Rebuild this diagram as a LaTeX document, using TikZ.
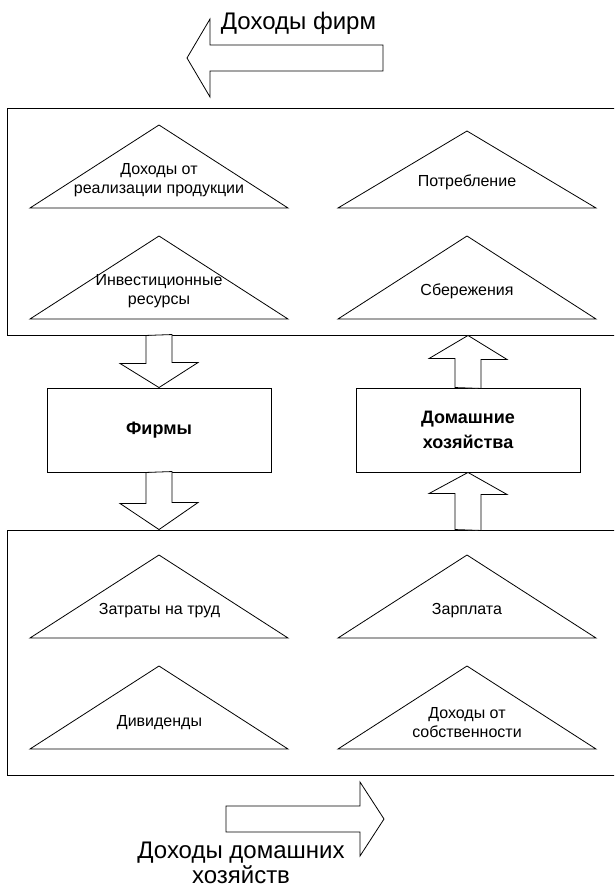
\documentclass[tikz,border=0pt]{standalone}
\usepackage{fontspec}
\setmainfont{Liberation Sans}
\usetikzlibrary{positioning, calc}

\begin{document}
\begin{tikzpicture}[x=1pt, y=-1pt,
  panel/.style={draw, line width=0.9pt, minimum width=614pt, inner sep=0pt},
  box/.style={draw, line width=0.9pt, minimum width=224pt, minimum height=84pt,
              align=center, font=\fontsize{18}{25}\selectfont\bfseries},
  tri/.style={draw, line width=0.8pt, line join=miter},
  lbl/.style={align=center, inner sep=0pt, font=\fontsize{16}{19}\selectfont},
  big/.style={align=center, inner sep=0pt, font=\fontsize{24}{25}\selectfont},
  flow/.style={draw, fill=white, line width=0.8pt, line join=miter}
]
  \clip (0,0) rectangle (614,888);

  % the two panels run past the right edge
  \node[panel, minimum height=227pt] (upper) at (314.5,221.5) {};
  \node[panel, minimum height=245pt] (lower) at (314.5,652.5) {};

  \node[box] (firms) at (159,430) {Фирмы};
  \node[box] (house) at (468,430) {Домашние\\хозяйства};

  % triangles: centre x / apex y / base y
  \foreach \cx/\ty/\by in {159/125/208, 467/131/208, 159/236/319, 467/236/319,
                           159/555/638, 467/555/638, 159/666/749, 467/666/749}
    \draw[tri] (\cx-129,\by) -- (\cx,\ty) -- (\cx+129,\by) -- cycle;

  \node[lbl] (sales)    at (159,180.5) {Доходы от\\реализации продукции};
  \node[lbl] (consume)  at (467,182)   {Потребление};
  \node[lbl] (invest)   at (159,291.5) {Инвестиционные\\ресурсы};
  \node[lbl] (savings)  at (467,291)   {Сбережения};
  \node[lbl] (labour)   at (159.5,611) {Затраты на труд};
  \node[lbl] (wages)    at (467,611)   {Зарплата};
  \node[lbl] (dividend) at (159.5,723) {Дивиденды};
  \node[lbl] (property) at (467,722.5) {Доходы от\\собственности};

  % block arrows between panels and boxes
  \draw[flow] ($(upper.south -| firms.north)+(-13,0)$) -- ++(0,28) -- ++(-26,0)
    -- (firms.north) -- ++(39,-25) -- ++(-26,0) -- ++(0,-28) -- cycle;
  \draw[flow] ($(house.north)+(-13,0)$) -- ++(0,-29) -- ++(-26,0)
    -- (house.north |- upper.south) -- ++(39,24) -- ++(-26,0) -- ++(0,29) -- cycle;
  \draw[flow] ($(firms.south)+(-13,0)$) -- ++(0,31) -- ++(-26,0)
    -- (firms.south |- lower.north) -- ++(39,-27) -- ++(-26,0) -- ++(0,-31) -- cycle;
  \draw[flow] ($(house.south |- lower.north)+(-13,0)$) -- ++(0,-36) -- ++(-26,0)
    -- (house.south) -- ++(39,22) -- ++(-26,0) -- ++(0,36) -- cycle;

  % income flows
  \coordinate (ftip) at (187,58);
  \draw[flow] (ftip) -- ++(23,-39) -- ++(0,26) -- ++(173,0) -- ++(0,26)
    -- ++(-173,0) -- ++(0,26) -- cycle;
  \node[big] (firminc) at (298.5,23) {Доходы фирм};

  \coordinate (htip) at (384,819);
  \draw[flow] (htip) -- ++(-24,-37) -- ++(0,24) -- ++(-134,0) -- ++(0,26)
    -- ++(134,0) -- ++(0,24) -- cycle;
  \node[big] (homeinc) at (241,863) {Доходы домашних\\хозяйств};
\end{tikzpicture}
\end{document}
